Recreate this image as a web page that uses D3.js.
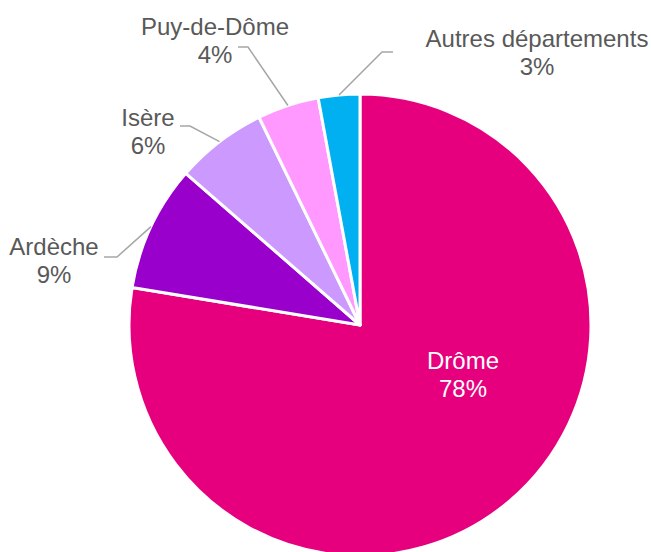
<!DOCTYPE html>
<html>
<head>
<meta charset="utf-8">
<script src="https://cdn.jsdelivr.net/npm/d3@7"></script>
<style>
	body { margin: 0; background: #fff; }
	svg { display: block; font-family: "Liberation Sans", Arial, sans-serif; }
</style>
</head>
<body>
<svg id="chart" width="651" height="552"></svg>
<script>
// data
var categories = ["Drôme", "Ardèche", "Isère", "Puy-de-Dôme", "Autres départements"];
var values = [77.6, 8.8, 6.4, 4.3, 2.9];
var colors = ["#E6007E", "#9900CC", "#CC99FF", "#FF99FF", "#00B0F0"];

// label layout: text centre x, first baseline y, leader elbow (null = inside)
var labelLayout = [
	{ tx: 463, ty: 369, inside: true },
	{ tx: 54, ty: 255, lx: 104, ex: 117, ly: 257 },
	{ tx: 148, ty: 126, lx: 180, ex: 190, ly: 126 },
	{ tx: 215, ty: 35, lx: 238, ex: 248, ly: 47 },
	{ tx: 537, ty: 47, lx: 393, ex: 382, ly: 52 }
];

var cx = 360, cy = 325, radius = 231;
var lineGap = 28;

var svg = d3.select("#chart");
var g = svg.append("g").attr("transform", "translate(" + cx + "," + cy + ")");

var total = d3.sum(values);
var pie = d3.pie().sort(null).value(function (d) { return d; });
var arcs = pie(values);
var arc = d3.arc().innerRadius(0).outerRadius(radius);
var edge = d3.arc().innerRadius(radius).outerRadius(radius);

g.selectAll("path.slice")
	.data(arcs)
	.enter().append("path")
	.attr("class", "slice")
	.attr("d", arc)
	.attr("fill", function (d, i) { return colors[i]; })
	.attr("stroke", "#fff")
	.attr("stroke-width", 3)
	.attr("stroke-linejoin", "round");

// leader lines
arcs.forEach(function (d, i) {
	var L = labelLayout[i];
	if (L.inside) return;
	var p = edge.centroid(d);
	svg.append("polyline")
		.attr("points", [
			[L.lx, L.ly],
			[L.ex, L.ly],
			[cx + p[0], cy + p[1]]
		].map(function (q) { return q.join(","); }).join(" "))
		.attr("fill", "none")
		.attr("stroke", "#A6A6A6")
		.attr("stroke-width", 1.5);
});

// labels
arcs.forEach(function (d, i) {
	var L = labelLayout[i];
	var pct = Math.round(d.value / total * 100) + "%";
	var t = svg.append("text")
		.attr("text-anchor", "middle")
		.attr("font-size", "24px")
		.attr("fill", L.inside ? "#fff" : "#595959");
	t.append("tspan").attr("x", L.tx).attr("y", L.ty).text(categories[i]);
	t.append("tspan").attr("x", L.tx).attr("y", L.ty + lineGap).text(pct);
});
</script>
</body>
</html>
